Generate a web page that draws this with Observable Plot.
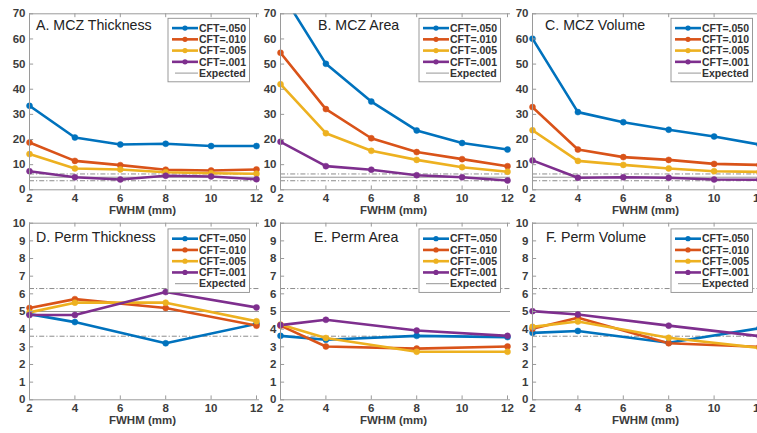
<!DOCTYPE html>
<html><head><meta charset="utf-8">
<script src="https://cdn.jsdelivr.net/npm/d3@7"></script>
<script src="https://cdn.jsdelivr.net/npm/@observablehq/plot@0.6"></script>
<style>
html,body{margin:0;padding:0;background:#fff;overflow:hidden}
#root{position:relative;width:757px;height:433px;overflow:hidden;background:#fff;font-family:"Liberation Sans",Arial,sans-serif}
#root svg{position:absolute;overflow:visible}
</style></head><body><div id="root"></div>
<script>
// ---- data ----
const fwhmTop = [2, 4, 6, 8, 10, 12];
const fwhmBottom = [2, 4, 8, 12];
const xTicks = [2, 4, 6, 8, 10, 12];
const topYTicks = [0, 10, 20, 30, 40, 50, 60, 70];
const bottomYTicks = [0, 1, 2, 3, 4, 5, 6, 7, 8, 9, 10];
const cftLabels = ["CFT=.050", "CFT=.010", "CFT=.005", "CFT=.001"];
const expectedLabel = "Expected";
const colors = ["#0072BD", "#D95319", "#EDB120", "#7E2F8E"];
const expectedCenter = [5];
const expectedBounds = [6.3, 3.6];
const xAxisLabel = "FWHM (mm)";

// rows: CFT .050, .010, .005, .001
const mczThickness = [
  [33.4, 20.8, 18.0, 18.3, 17.4, 17.4],
  [18.8, 11.5, 9.8, 8.0, 7.7, 8.1],
  [14.2, 8.5, 8.1, 7.0, 6.6, 6.4],
  [7.4, 5.0, 4.1, 5.6, 5.3, 4.2]
];
const mczArea = [
  [79, 50.1, 35.1, 23.6, 18.6, 16.0],
  [54.5, 32.1, 20.5, 15.0, 12.2, 9.4],
  [42.0, 22.5, 15.5, 11.9, 9.0, 7.2],
  [19.1, 9.4, 8.0, 5.8, 5.0, 3.7]
];
const mczVolume = [
  [60.1, 30.9, 26.9, 23.9, 21.2, 18.0],
  [32.9, 16.0, 13.0, 11.9, 10.3, 9.9],
  [23.7, 11.5, 9.9, 8.5, 7.4, 7.1],
  [11.7, 4.8, 5.0, 4.8, 4.1, 4.0]
];
const permThickness = [
  [4.85, 4.4, 3.2, 4.3],
  [5.2, 5.7, 5.2, 4.2],
  [4.95, 5.5, 5.5, 4.45],
  [4.8, 4.8, 6.1, 5.23]
];
const permArea = [
  [3.62, 3.4, 3.62, 3.55],
  [4.2, 3.02, 2.9, 3.02],
  [4.26, 3.5, 2.72, 2.72],
  [4.23, 4.53, 3.92, 3.62]
];
const permVolume = [
  [3.79, 3.9, 3.23, 4.05],
  [4.02, 4.64, 3.2, 3.0],
  [4.13, 4.43, 3.51, 2.94],
  [5.02, 4.83, 4.2, 3.6]
];

const titles = ["A. MCZ Thickness", "B. MCZ Area", "C. MCZ Volume", "D. Perm Thickness", "E. Perm Area", "F. Perm Volume"];

// ---- layout ----
const FONT = '"Liberation Sans", Arial, Helvetica, sans-serif';
const frameColor = "#9a9a9a";
const textColor = "#3c3c3c";
const ML = 29, PLOTW = 230, XMAX = 2 + 10 * 230 / 227;
const rowsCfg = [
  {top: 0, height: 215, marginTop: 13.3, marginBottom: 25.7, yMax: 70, yTicks: topYTicks, fwhm: fwhmTop, titleDy: 16.8, legendDy: 5},
  {top: 215, height: 218, marginTop: 7.7, marginBottom: 33.7, yMax: 10, yTicks: bottomYTicks, fwhm: fwhmBottom, titleDy: 19, legendDy: 6.2}
];
const colLefts = [29, 280, 532];
const titleDx = [[7, 38, 13], [7, 34, 14]];
const datasets = [[mczThickness, mczArea, mczVolume], [permThickness, permArea, permVolume]];

const root = document.getElementById("root");

function makePanel(r, c) {
  const cfg = rowsCfg[r];
  const values = datasets[r][c];
  const rows = [];
  values.forEach((s, i) => s.forEach((v, j) => rows.push({fwhm: cfg.fwhm[j], value: v, series: cftLabels[i]})));
  const yMax = cfg.yMax;
  const svg = Plot.plot({
    width: ML + PLOTW + 2,
    height: cfg.height,
    marginLeft: ML, marginRight: 2, marginTop: cfg.marginTop, marginBottom: cfg.marginBottom,
    x: {domain: [2, XMAX]},
    y: {domain: [0, yMax]},
    color: {domain: cftLabels, range: colors},
    style: {background: "transparent", fontFamily: FONT, overflow: "visible"},
    marks: [
      Plot.ruleY(expectedBounds, {stroke: "#6f6f6f", strokeWidth: 0.8, strokeDasharray: "5,2,1.2,2"}),
      Plot.ruleY(expectedCenter, {stroke: "#8a8a8a", strokeWidth: 0.9}),
      Plot.line(rows, {x: "fwhm", y: "value", z: "series", stroke: "series", strokeWidth: 2.6, clip: true}),
      Plot.dot(rows, {filter: d => d.value <= yMax, x: "fwhm", y: "value", fill: "series", stroke: "series", strokeWidth: 0.5, r: 3}),
      Plot.ruleY([0, yMax], {stroke: frameColor, strokeWidth: 1}),
      Plot.ruleX([2], {stroke: frameColor, strokeWidth: 1}),
      Plot.ruleX(xTicks, {y1: 0, y2: yMax * 0.022, stroke: frameColor}),
      Plot.ruleX(xTicks, {y1: yMax, y2: yMax * 0.978, stroke: frameColor}),
      Plot.ruleY(cfg.yTicks, {x1: 2, x2: 2 + (XMAX - 2) * 0.018, stroke: frameColor}),
      Plot.axisX({ticks: xTicks, tickSize: 0, tickPadding: 4.5, label: null, fontSize: 11.5, fontWeight: "bold", fill: textColor}),
      Plot.axisY({ticks: cfg.yTicks, tickSize: 0, tickPadding: 4, label: null, fontSize: 11.5, fontWeight: "bold", fill: textColor})
    ]
  });
  svg.style.left = (colLefts[c] - ML) + "px";
  svg.style.top = cfg.top + "px";
  const g = d3.select(svg);
  const plotH = cfg.height - cfg.marginTop - cfg.marginBottom;
  // x-axis label
  g.append("text").attr("x", ML + 227 / 2).attr("y", cfg.marginTop + plotH + 20.7).attr("dy", "0.35em")
    .attr("text-anchor", "middle").attr("font-family", FONT).attr("font-size", 11.5).attr("font-weight", "bold")
    .attr("fill", textColor).text(xAxisLabel);
  // panel title
  g.append("text").attr("x", ML + titleDx[r][c]).attr("y", cfg.marginTop + cfg.titleDy)
    .attr("text-anchor", "start")
    .attr("font-family", FONT).attr("font-size", 14.2).attr("fill", "#222").text(titles[r * 3 + c]);
  // legend
  const lx = ML + 139, ly = cfg.marginTop + cfg.legendDy;
  const lg = g.append("g").attr("transform", `translate(${lx},${ly})`);
  lg.append("rect").attr("x", 0).attr("y", 0).attr("width", 81.5).attr("height", 63.5)
    .attr("fill", "#fff").attr("stroke", "#8f8f8f").attr("stroke-width", 0.9);
  const items = cftLabels.concat([expectedLabel]);
  items.forEach((lab, i) => {
    const yy = 9.8 + i * 11.25;
    if (i < 4) {
      lg.append("line").attr("x1", 4).attr("x2", 30).attr("y1", yy).attr("y2", yy)
        .attr("stroke", colors[i]).attr("stroke-width", 2.6);
      lg.append("circle").attr("cx", 17).attr("cy", yy).attr("r", 2.6).attr("fill", colors[i]);
    } else {
      lg.append("line").attr("x1", 7).attr("x2", 30).attr("y1", yy).attr("y2", yy)
        .attr("stroke", "#8a8a8a").attr("stroke-width", 0.9);
    }
    lg.append("text").attr("x", 31).attr("y", yy).attr("dy", "0.35em").attr("text-anchor", "start")
      .attr("font-family", FONT).attr("font-size", 10.5).attr("font-weight", "bold")
      .attr("fill", "#333").text(lab);
  });
  root.appendChild(svg);
}

for (let r = 0; r < 2; r++) for (let c = 0; c < 3; c++) makePanel(r, c);
</script>
</body></html>
